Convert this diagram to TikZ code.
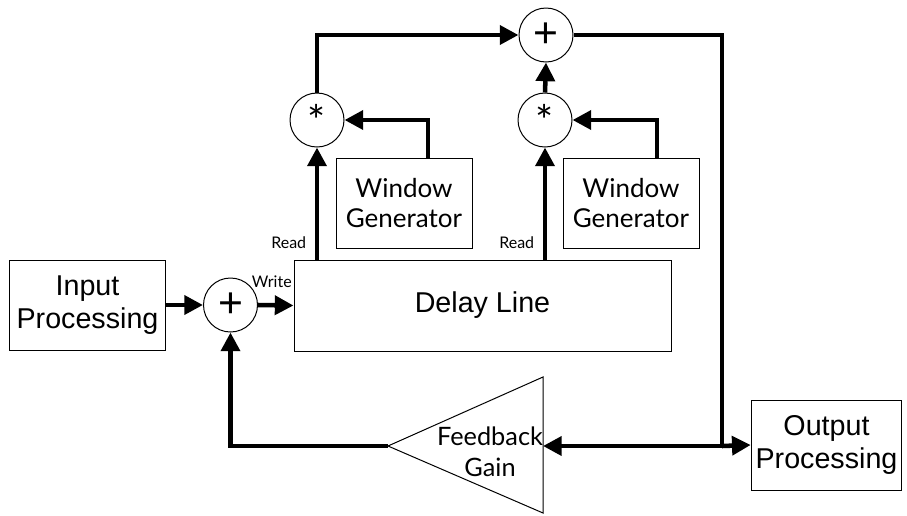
\documentclass[tikz,border=0pt]{standalone}
\usepackage{fontspec}
\setmainfont{Liberation Sans}
\newfontfamily\gillfont{Lato}
\usetikzlibrary{arrows.meta}

\tikzset{every picture/.style={line width=0.75pt}}
\tikzset{
  blk/.style={draw, rectangle, align=center, font=\fontsize{21.5}{25}\selectfont, minimum height=67.5pt},
  gillbox/.style={blk, font=\gillfont\fontsize{19.5}{23}\selectfont},
  opnode/.style={draw, circle, minimum size=40.5pt, inner sep=0pt},
  signal/.style={line width=3.4pt, line join=miter, -{Triangle[length=14pt,width=14pt]}},
  wire/.style={line width=3.4pt, line join=miter},
  smalllbl/.style={font=\gillfont\fontsize{12}{14}\selectfont, inner sep=1pt}
}

\begin{document}
\begin{tikzpicture}[x=0.75pt,y=0.75pt,yscale=-1,xscale=1]
	\useasboundingbox (0,0) rectangle (907,515);

	% Blocks
	\node [blk, minimum width=117pt] (inproc) at (87.5,305) {Input\\Processing};
	\node [opnode] (sumin) at (230.5,305) {\fontsize{32}{32}\selectfont +};
	\node [blk, minimum width=282.75pt, minimum height=68.25pt] (delay) at (482.5,305.5) {Delay Line};
	\node [opnode] (mulleft) at (317,120) {\gillfont\fontsize{32}{32}\selectfont\raisebox{-8pt}{*}};
	\node [opnode] (mulright) at (545,120) {\gillfont\fontsize{32}{32}\selectfont\raisebox{-8pt}{*}};
	\node [gillbox, minimum width=102pt] (winleft) at (404,203) {Window\\Generator};
	\node [gillbox, minimum width=102pt] (winright) at (631,203) {Window\\Generator};
	\node [opnode] (sumout) at (546,35) {\fontsize{32}{32}\selectfont +};
	\node [blk, minimum width=105.75pt] (outproc) at (826.5,445) {Output\\Processing};

	% Feedback gain triangle
	\coordinate (gaintip) at (388,446);
	\coordinate (gaintop) at (543,377);
	\coordinate (gainbot) at (543,513);
	\coordinate (gainin) at (543,446);
	\draw (gaintip) -- (gaintop) -- (gainbot) -- cycle;
	\node [font=\gillfont\fontsize{19}{23}\selectfont, align=center] (gaintxt) at (490,452) {Feedback\\Gain};
	\coordinate (junc) at (722,446);

	% Signal paths
	\draw [signal] (inproc.east) -- (sumin.west);
	\draw [signal] (sumin.east) -- (delay.west);
	\draw [signal] (delay.north -| mulleft) -- (mulleft.south);
	\draw [signal] (delay.north -| mulright) -- (mulright.south);
	\draw [signal] ([xshift=18pt]winleft.north) |- (mulleft.east);
	\draw [signal] ([xshift=19.5pt]winright.north) |- (mulright.east);
	\draw [signal] (mulleft.north) |- (sumout.west);
	\draw [signal] (mulright.north) -- (sumout.south);
	\draw [wire] (sumout.east) -| (junc);
	\draw [signal] (junc) -- (outproc.west);
	\draw [signal] (junc) -- (gainin);
	\draw [signal] (gaintip) -| (sumin.south);

	% Labels
	\node [smalllbl, anchor=south east] (wrlbl) at (delay.west |- 0,289) {Write};
	\node [smalllbl, anchor=east] (rdleft) at (308,243) {Read};
	\node [smalllbl, anchor=east] (rdright) at (536,243) {Read};

\end{tikzpicture}
\end{document}
